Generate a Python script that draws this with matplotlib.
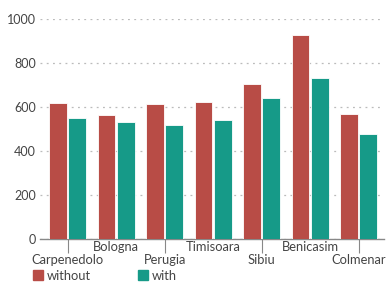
import numpy as np
import matplotlib.pyplot as plt
from matplotlib.patches import Patch

cidades = ['Carpenedolo', 'Bologna', 'Perugia', 'Timisoara', 'Sibiu', 'Benicasim', 'Colmenar']
sem = [617, 565, 614, 622, 704, 929, 567]
com = [549, 530, 517, 542, 640, 734, 477]

cor_sem = '#b84c46'
cor_com = '#169a88'
cor_texto = '#444444'

plt.rcParams['font.family'] = 'Lato'
plt.rcParams['font.size'] = 9.3

fig = plt.figure(figsize=(3.89, 2.82), dpi=100)
ax = fig.add_axes([0.103, 0.154, 0.884, 0.777])

x = np.arange(len(cidades))
ax.bar(x - 0.2, sem, width=0.37, color=cor_sem, edgecolor='white', linewidth=0.6, zorder=3)
ax.bar(x + 0.2, com, width=0.37, color=cor_com, edgecolor='white', linewidth=0.6, zorder=3)

ax.set_xlim(-0.57, 6.52)
ax.set_ylim(0, 1000)
ax.set_yticks([0, 200, 400, 600, 800, 1000])
ax.yaxis.grid(True, linestyle=(0, (1.5, 3.5)), color='#bbbbbb', linewidth=0.9, zorder=0)
ax.tick_params(axis='y', length=0, pad=3, colors=cor_texto, labelsize=9)

for lado in ['left', 'right', 'top']:
    ax.spines[lado].set_visible(False)
ax.spines['bottom'].set_color('#888888')
ax.spines['bottom'].set_linewidth(1)

# rotulos alternados em duas linhas
ax.set_xticks(x[::2])
ax.set_xticklabels(cidades[::2])
ax.set_xticks(x[1::2], minor=True)
ax.set_xticklabels(cidades[1::2], minor=True)
ax.tick_params(axis='x', which='major', length=10, width=0.8, pad=1, colors=cor_texto, labelsize=9.3)
ax.tick_params(axis='x', which='major', color='#888888')
ax.tick_params(axis='x', which='minor', length=0, pad=1.5, colors=cor_texto, labelsize=9.3)

handles = [Patch(color=cor_sem, label='without'), Patch(color=cor_com, label='with')]
fig.legend(handles=handles, loc='lower left', bbox_to_anchor=(0.055, -0.04), ncol=2, frameon=False,
           handlelength=0.75, handleheight=0.75, handletextpad=0.35, columnspacing=3.6,
           labelcolor=cor_texto, fontsize=9.3)

fig.savefig('out.png', dpi=100)
